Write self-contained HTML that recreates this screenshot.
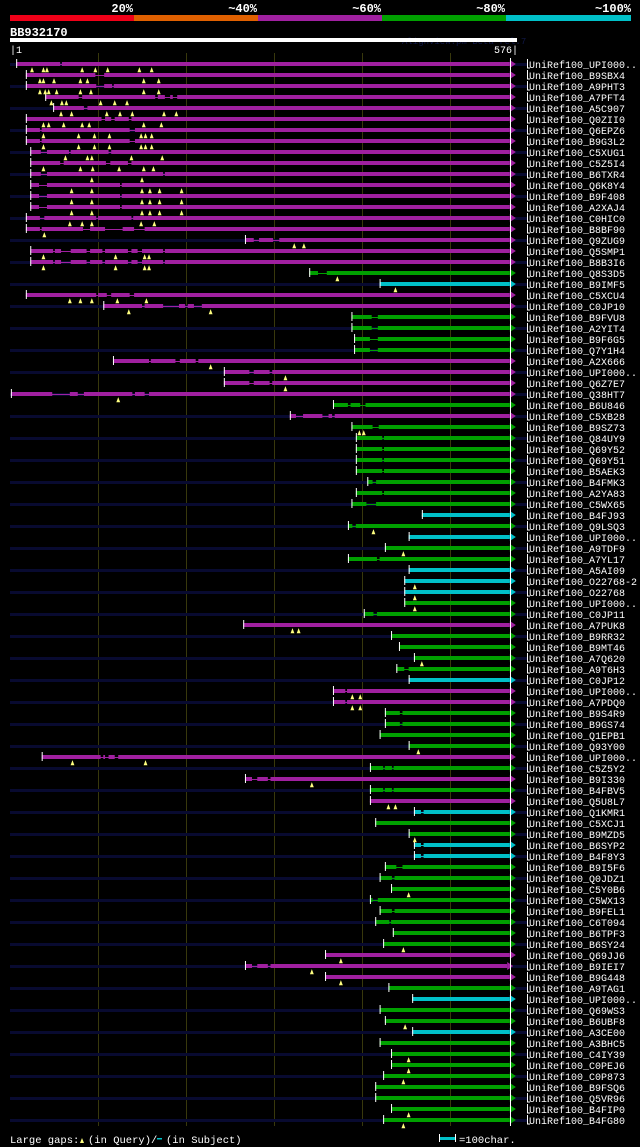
<!DOCTYPE html>
<html><head><meta charset="utf-8">
<style>
html,body{margin:0;padding:0;background:#000;}
svg{display:block;}
text{font-family:"Liberation Mono",monospace;}
</style></head>
<body>
<svg id="chart" width="640" height="1147" viewBox="0 0 640 1147">
<rect x="0" y="0" width="640" height="1147" fill="#000"/>
<g>
<rect x="10" y="15" width="124" height="6" fill="#f00018"/>
<rect x="134" y="15" width="124" height="6" fill="#e06000"/>
<rect x="258" y="15" width="124" height="6" fill="#a020a0"/>
<rect x="382" y="15" width="124" height="6" fill="#00a000"/>
<rect x="506" y="15" width="125" height="6" fill="#00c0c8"/>
<text x="133" y="12" fill="#fff" font-size="12" font-weight="bold" text-anchor="end">20%</text>
<text x="257" y="12" fill="#fff" font-size="12" font-weight="bold" text-anchor="end">~40%</text>
<text x="381" y="12" fill="#fff" font-size="12" font-weight="bold" text-anchor="end">~60%</text>
<text x="505" y="12" fill="#fff" font-size="12" font-weight="bold" text-anchor="end">~80%</text>
<text x="631" y="12" fill="#fff" font-size="12" font-weight="bold" text-anchor="end">~100%</text>
</g>
<text x="10" y="36" fill="#fff" font-size="12" font-weight="bold">BB932170</text>
<text x="402" y="44" fill="#101848" font-size="9">AlignView.pm Beta rel.7</text>
<rect x="10" y="38" width="507" height="4" fill="#fff"/>
<text x="10" y="53" fill="#fff" font-size="10">|1</text>
<text x="518" y="53" fill="#fff" font-size="10" text-anchor="end">576|</text>
<g id="grid"></g>
<g id="rows"></g>
<g>
<text x="10" y="1143" fill="#fff" font-size="10.5">Large gaps:</text>
<polygon points="80,1143 82,1138 84,1143" fill="#ffff80"/>
<text x="88" y="1143" fill="#fff" font-size="10.5">(in Query)/</text>
<rect x="157" y="1138" width="5" height="1.5" fill="#00c0c8"/>
<text x="166" y="1143" fill="#fff" font-size="10.5">(in Subject)</text>
<rect x="439" y="1134" width="1" height="8" fill="#fff"/>
<rect x="440" y="1137" width="15" height="3" fill="#00c0c8"/>
<rect x="455" y="1134" width="1" height="8" fill="#fff"/>
<text x="459" y="1143" fill="#fff" font-size="10.5">=100char.</text>
</g>
</svg>
<script>
const names = ["UPI000..","B9SBX4","A9PHT3","A7PFT4","A5C907","Q0ZII0","Q6EPZ6","B9G3L2","C5XUG1","C5Z5I4","B6TXR4","Q6K8Y4","B9F408","A2XAJ4","C0HIC0","B8BF90","Q9ZUG9","Q5SMP1","B8B3I6","Q8S3D5","B9IMF5","C5XCU4","C0JP10","B9FVU8","A2YIT4","B9F6G5","Q7Y1H4","A2X666","UPI000..","Q6Z7E7","Q38HT7","B6U846","C5XB28","B9SZ73","Q84UY9","Q69Y52","Q69Y51","B5AEK3","B4FMK3","A2YA83","C5WX65","B4FJ93","Q9LSQ3","UPI000..","A9TDF9","A7YL17","A5AI09","O22768-2","O22768","UPI000..","C0JP11","A7PUK8","B9RR32","B9MT46","A7Q620","A9T6H3","C0JP12","UPI000..","A7PDQ0","B9S4R9","B9GS74","Q1EPB1","Q93Y00","UPI000..","C5Z5Y2","B9I330","B4FBV5","Q5U8L7","Q1KMR1","C5XCJ1","B9MZD5","B6SYP2","B4F8Y3","B9I5F6","Q0JDZ1","C5Y0B6","C5WX13","B9FEL1","C6T094","B6TPF3","B6SY24","Q69JJ6","B9IEI7","B9G448","A9TAG1","UPI000..","Q69WS3","B6UBF8","A3CE00","A3BHC5","C4IY39","C0PEJ6","C0P873","B9FSQ6","Q5VR96","B4FIP0","B4FG80"];
const starts = [7,18,18,40,49,18,18,18,23,23,23,23,23,23,18,18,267,23,23,340,420,18,106,388,388,391,391,117,243,243,1,367,318,388,393,393,393,393,406,393,388,468,384,453,426,384,453,448,448,448,402,265,433,442,459,439,453,367,367,426,426,420,453,36,409,267,409,409,459,415,453,459,459,426,420,433,409,420,415,435,424,358,267,358,430,457,420,426,457,420,433,433,424,415,415,433,424];
const ends = [568,568,568,568,568,568,568,568,568,568,568,568,568,568,568,568,568,568,568,568,568,568,568,568,568,568,568,568,568,568,568,568,568,568,568,568,568,568,568,568,568,568,568,568,568,568,568,568,568,568,568,568,568,568,568,568,568,568,568,568,568,568,568,568,568,568,568,568,568,568,568,568,568,568,568,568,568,568,568,568,568,568,565,568,568,568,568,568,568,568,568,568,568,568,568,568,568];
const identity = ["mmmmmmmmmmmmmmmmmmm","gcmm","gggg","mmmm","gm","gggggggg","cgc","ggcccggm","gggg","cmm","gggg","mgmgmc","ggcc","gggggggg","mmm","gcggc","gggggggg"].join("");
const gaps = [[0,57,59],[1,97,107],[2,98,107],[2,116,118],[3,78,82],[3,165,168],[3,176,182],[3,185,190],[4,84,88],[5,104,108],[5,115,119],[5,135,138],[6,34,36],[6,136,142],[7,34,36],[7,136,142],[8,35,42],[8,67,69],[8,112,115],[9,57,61],[9,109,114],[9,134,138],[10,35,42],[10,174,176],[11,33,42],[11,125,127],[12,33,42],[12,125,127],[13,33,42],[13,125,127],[14,34,39],[14,98,100],[14,138,140],[15,34,36],[15,83,91],[15,108,128],[15,141,153],[16,277,283],[16,299,306],[17,49,51],[17,58,69],[17,87,91],[17,105,108],[17,134,138],[17,145,150],[17,174,176],[18,49,51],[18,58,69],[18,87,91],[18,105,108],[18,134,138],[18,145,150],[18,174,176],[19,350,360],[21,98,100],[21,110,115],[21,136,141],[22,150,153],[22,174,192],[22,199,202],[22,209,218],[23,411,418],[24,411,418],[25,409,418],[26,409,418],[27,158,160],[27,188,193],[27,211,214],[28,272,277],[28,295,298],[29,272,277],[29,295,298],[30,48,68],[30,77,84],[30,139,142],[30,153,158],[31,384,387],[31,398,404],[32,325,333],[32,355,362],[32,366,369],[33,412,419],[34,423,425],[35,423,425],[36,423,425],[37,423,425],[39,423,425],[38,412,416],[40,405,416],[42,389,393],[45,417,420],[50,413,417],[55,448,453],[57,381,383],[58,381,383],[59,443,446],[60,443,446],[63,103,106],[63,108,112],[63,119,123],[64,424,426],[64,434,436],[65,275,281],[65,293,296],[66,424,426],[66,434,436],[68,467,470],[71,467,470],[72,467,470],[73,439,446],[74,434,437],[76,412,418],[77,434,437],[78,431,433],[82,275,281],[82,293,296]];
const markers = [[0,25],[0,38],[0,42],[0,82],[0,97],[0,111],[0,147],[0,161],[1,34],[1,38],[1,50],[1,80],[1,88],[1,152],[1,169],[2,34],[2,40],[2,44],[2,53],[2,80],[2,92],[2,152],[2,169],[3,47],[3,59],[3,64],[3,103],[3,119],[3,133],[4,58],[4,70],[4,110],[4,125],[4,139],[4,175],[4,189],[5,38],[5,44],[5,61],[5,82],[5,90],[5,152],[5,172],[6,38],[6,78],[6,96],[6,113],[6,149],[6,154],[6,161],[7,38],[7,78],[7,96],[7,113],[7,149],[7,154],[7,161],[8,63],[8,88],[8,93],[8,138],[8,173],[9,38],[9,80],[9,94],[9,124],[9,152],[9,163],[10,93],[10,150],[11,70],[11,93],[11,150],[11,159],[11,170],[11,195],[12,70],[12,93],[12,150],[12,159],[12,170],[12,195],[13,70],[13,93],[13,150],[13,159],[13,170],[13,195],[14,68],[14,82],[14,93],[14,149],[14,164],[15,39],[16,323],[16,334],[17,38],[17,120],[17,153],[17,158],[18,38],[18,120],[18,153],[18,158],[19,372],[20,438],[21,68],[21,80],[21,93],[21,122],[21,155],[22,135],[22,228],[27,228],[28,313],[29,313],[30,123],[33,397],[33,402],[42,413],[44,447],[47,460],[48,460],[49,460],[51,321],[51,328],[54,468],[57,389],[57,398],[58,389],[58,398],[62,464],[63,71],[63,154],[65,343],[67,430],[67,438],[70,460],[75,453],[80,447],[81,376],[82,343],[83,376],[87,449],[90,453],[91,453],[92,447],[95,453],[96,447]];
const gridTicks = [100,200,300,400,500];

const NS = "http://www.w3.org/2000/svg";
const colorMap = {m:"#a020a0", g:"#00a000", c:"#00c0c8"};
function xScale(p){ return 10 + p*0.88; }
function yRow(i){ return 64 + i*11; }
function mk(tag, attrs, parent){
  const e = document.createElementNS(NS, tag);
  for (const k in attrs) e.setAttribute(k, attrs[k]);
  parent.appendChild(e);
  return e;
}
const grid = document.getElementById('grid');
const rows = document.getElementById('rows');
const nRows = names.length;
for (let i = 0; i < nRows; i += 2) {
  const s = mk('rect', {x:10, y:yRow(i)-1, width:517, height:3, fill:"#080a30"}, rows);
  
  
}
gridTicks.forEach(t => {
  const l = mk('rect', {x:xScale(t), y:53, width:1, height:yRow(nRows-1)+6-53, fill:"#38380c"}, grid);
  
  
});
for (let i = 0; i < nRows; i++) {
  const y = yRow(i);
  const col = colorMap[identity[i]] || colorMap.g;
  const x0 = xScale(starts[i]), x1 = xScale(ends[i]);
  const g = mk('g', {}, rows);
  
  
  mk('rect', {x:x0, y:y, width:x1-x0, height:1, fill:col}, g);
  const rg = gaps.filter(d => d[0] === i).sort((a,b)=>a[1]-b[1]);
  let cur = starts[i];
  rg.forEach(d => {
    if (d[1] > cur) {
      const b = mk('rect', {x:xScale(cur), y:y-2, width:xScale(d[1])-xScale(cur), height:4, fill:col}, g);
      
      
    }
    cur = Math.max(cur, d[2]);
  });
  const b = mk('rect', {x:xScale(cur), y:y-2, width:x1-xScale(cur), height:4, fill:col}, g);
  
  
  const tk = mk('rect', {x:x0, y:y-5, width:1, height:9, fill:"#fff"}, g);
  
  
  const ar = mk('polygon', {points:(x1)+","+(y-4)+" "+(x1+6)+","+y+" "+(x1)+","+(y+4), fill:col}, g);
  
  
  const rm = mk('path', {d:"M527.5 "+(y-5)+" V"+(y+4)+" H530", stroke:"#fff", "stroke-width":1, fill:"none"}, g);
  
  
  const lb = mk('text', {x:529, y:y+4, fill:"#fff", "font-size":"10"}, g);
  lb.textContent = "UniRef100_" + names[i];
  
  
}
const el = mk('rect', {x:510, y:58, width:1, height:yRow(nRows-1)+6-58, fill:"#fff"}, rows);


markers.forEach(m => {
  const x = xScale(m[1]), y = yRow(m[0]);
  const t = mk('polygon', {points:(x-1.5)+","+(y+8)+" "+x+","+(y+4)+" "+(x+1.5)+","+(y+8), fill:"#ffff80", stroke:"#ffff80", "stroke-width":0.6}, rows);
  
  
});
</script>
</body></html>
